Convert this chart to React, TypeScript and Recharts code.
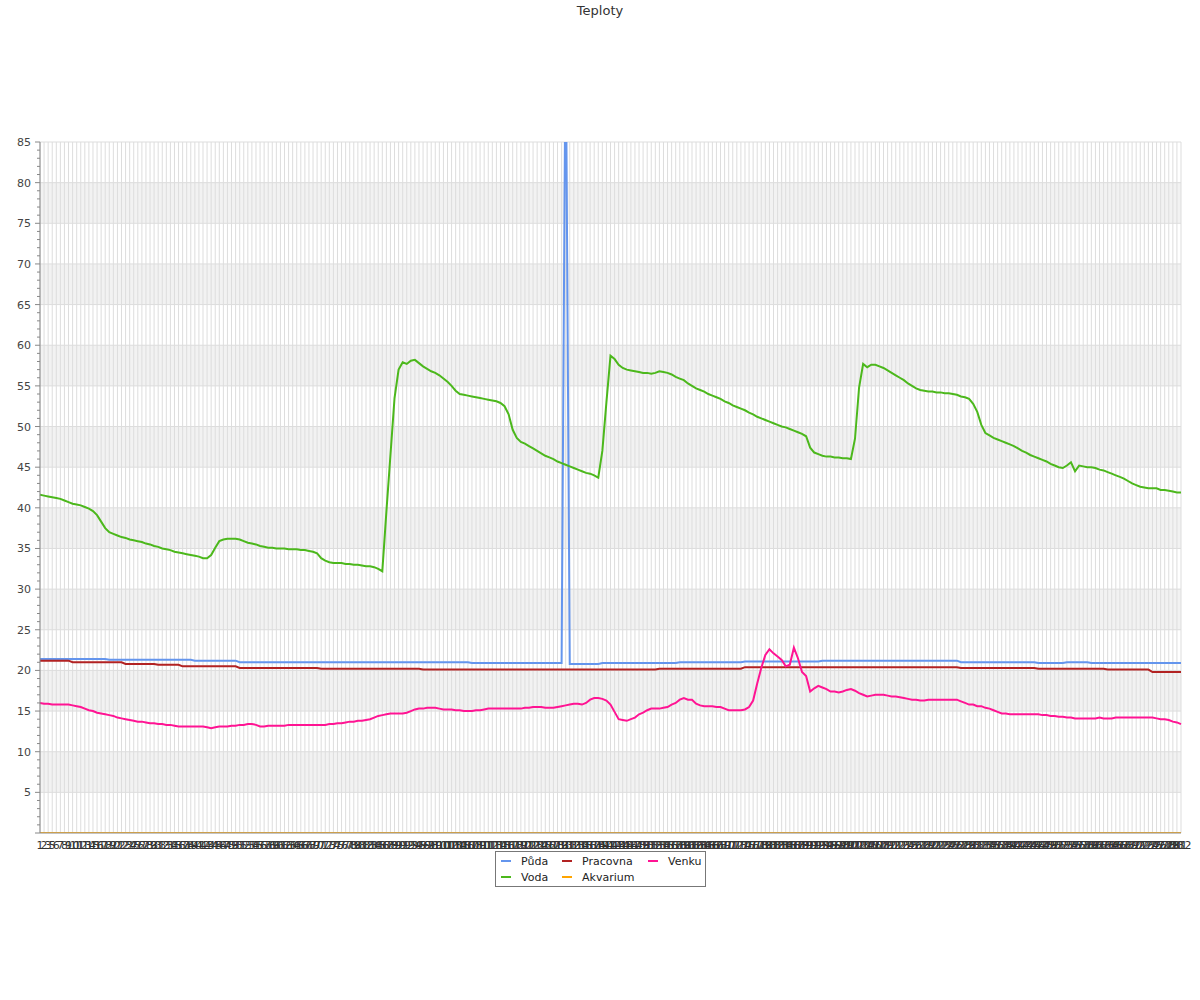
import React from 'react';
import { CartesianGrid, Line, LineChart, XAxis, YAxis } from 'recharts';

// x categories: measurement numbers (1, 2, 3, 5, ... 282)
const LABELS = Array.from({ length: 281 }, (_, i) => String(i < 3 ? i + 1 : i + 2));

const PUDA = [
  21.4, 21.4, 21.4, 21.4, 21.4, 21.4, 21.4, 21.4, 21.4, 21.4,
  21.4, 21.4, 21.4, 21.4, 21.4, 21.4, 21.4, 21.3, 21.3, 21.3,
  21.3, 21.3, 21.3, 21.3, 21.3, 21.3, 21.3, 21.3, 21.3, 21.3,
  21.3, 21.3, 21.3, 21.3, 21.3, 21.3, 21.3, 21.3, 21.2, 21.2,
  21.2, 21.2, 21.2, 21.2, 21.2, 21.2, 21.2, 21.2, 21.2, 21.0,
  21.0, 21.0, 21.0, 21.0, 21.0, 21.0, 21.0, 21.0, 21.0, 21.0,
  21.0, 21.0, 21.0, 21.0, 21.0, 21.0, 21.0, 21.0, 21.0, 21.0,
  21.0, 21.0, 21.0, 21.0, 21.0, 21.0, 21.0, 21.0, 21.0, 21.0,
  21.0, 21.0, 21.0, 21.0, 21.0, 21.0, 21.0, 21.0, 21.0, 21.0,
  21.0, 21.0, 21.0, 21.0, 21.0, 21.0, 21.0, 21.0, 21.0, 21.0,
  21.0, 21.0, 21.0, 21.0, 21.0, 21.0, 20.9, 20.9, 20.9, 20.9,
  20.9, 20.9, 20.9, 20.9, 20.9, 20.9, 20.9, 20.9, 20.9, 20.9,
  20.9, 20.9, 20.9, 20.9, 20.9, 20.9, 20.9, 20.9, 20.9, 100,
  20.8, 20.8, 20.8, 20.8, 20.8, 20.8, 20.8, 20.8, 20.9, 20.9,
  20.9, 20.9, 20.9, 20.9, 20.9, 20.9, 20.9, 20.9, 20.9, 20.9,
  20.9, 20.9, 20.9, 20.9, 20.9, 20.9, 20.9, 21.0, 21.0, 21.0,
  21.0, 21.0, 21.0, 21.0, 21.0, 21.0, 21.0, 21.0, 21.0, 21.0,
  21.0, 21.0, 21.0, 21.1, 21.1, 21.1, 21.1, 21.1, 21.1, 21.1,
  21.1, 21.1, 21.1, 21.1, 21.1, 21.1, 21.1, 21.1, 21.1, 21.1,
  21.1, 21.1, 21.2, 21.2, 21.2, 21.2, 21.2, 21.2, 21.2, 21.2,
  21.2, 21.2, 21.2, 21.2, 21.2, 21.2, 21.2, 21.2, 21.2, 21.2,
  21.2, 21.2, 21.2, 21.2, 21.2, 21.2, 21.2, 21.2, 21.2, 21.2,
  21.2, 21.2, 21.2, 21.2, 21.2, 21.2, 21.0, 21.0, 21.0, 21.0,
  21.0, 21.0, 21.0, 21.0, 21.0, 21.0, 21.0, 21.0, 21.0, 21.0,
  21.0, 21.0, 21.0, 21.0, 21.0, 20.9, 20.9, 20.9, 20.9, 20.9,
  20.9, 20.9, 21.0, 21.0, 21.0, 21.0, 21.0, 21.0, 20.9, 20.9,
  20.9, 20.9, 20.9, 20.9, 20.9, 20.9, 20.9, 20.9, 20.9, 20.9,
  20.9, 20.9, 20.9, 20.9, 20.9, 20.9, 20.9, 20.9, 20.9, 20.9,
  20.9,
];

const VODA = [
  41.6, 41.5, 41.4, 41.3, 41.2, 41.1, 40.9, 40.7, 40.5, 40.4,
  40.3, 40.1, 39.9, 39.6, 39.1, 38.3, 37.5, 37.0, 36.8, 36.6,
  36.4, 36.3, 36.1, 36.0, 35.9, 35.8, 35.6, 35.5, 35.3, 35.2,
  35.0, 34.9, 34.8, 34.6, 34.5, 34.4, 34.3, 34.2, 34.1, 34.0,
  33.8, 33.8, 34.2, 35.1, 35.9, 36.1, 36.2, 36.2, 36.2, 36.1,
  35.9, 35.7, 35.6, 35.5, 35.3, 35.2, 35.1, 35.1, 35.0, 35.0,
  35.0, 34.9, 34.9, 34.9, 34.8, 34.8, 34.7, 34.6, 34.4, 33.8,
  33.5, 33.3, 33.2, 33.2, 33.2, 33.1, 33.1, 33.0, 33.0, 32.9,
  32.8, 32.8, 32.7, 32.5, 32.2, 39.5, 46.5, 53.5, 57.0, 57.9,
  57.7, 58.1, 58.2, 57.8, 57.4, 57.1, 56.8, 56.6, 56.3, 55.9,
  55.5, 55.0, 54.4, 54.0, 53.9, 53.8, 53.7, 53.6, 53.5, 53.4,
  53.3, 53.2, 53.1, 52.9, 52.5, 51.5, 49.6, 48.6, 48.1, 47.9,
  47.6, 47.3, 47.0, 46.7, 46.4, 46.2, 46.0, 45.7, 45.5, 45.3,
  45.1, 44.9, 44.7, 44.5, 44.3, 44.2, 44.0, 43.7, 47.0, 53.0,
  58.7, 58.3, 57.6, 57.2, 57.0, 56.9, 56.8, 56.7, 56.6, 56.6,
  56.5, 56.6, 56.8, 56.7, 56.6, 56.4, 56.1, 55.9, 55.7, 55.3,
  55.0, 54.7, 54.5, 54.3, 54.0, 53.8, 53.6, 53.4, 53.1, 52.9,
  52.6, 52.4, 52.2, 52.0, 51.7, 51.5, 51.2, 51.0, 50.8, 50.6,
  50.4, 50.2, 50.0, 49.9, 49.7, 49.5, 49.3, 49.1, 48.8, 47.4,
  46.8, 46.6, 46.4, 46.3, 46.3, 46.2, 46.2, 46.1, 46.1, 46.0,
  48.5, 54.8, 57.7, 57.3, 57.6, 57.6, 57.4, 57.2, 56.9, 56.6,
  56.3, 56.0, 55.7, 55.3, 55.0, 54.7, 54.5, 54.4, 54.3, 54.3,
  54.2, 54.2, 54.1, 54.1, 54.0, 53.9, 53.7, 53.6, 53.4, 52.8,
  51.8, 50.2, 49.2, 48.9, 48.6, 48.4, 48.2, 48.0, 47.8, 47.6,
  47.3, 47.0, 46.8, 46.5, 46.3, 46.1, 45.9, 45.7, 45.4, 45.2,
  45.0, 44.9, 45.2, 45.6, 44.5, 45.2, 45.1, 45.0, 45.0, 44.9,
  44.7, 44.6, 44.4, 44.2, 44.0, 43.8, 43.6, 43.3, 43.0, 42.8,
  42.6, 42.5, 42.4, 42.4, 42.4, 42.2, 42.2, 42.1, 42.0, 41.9,
  41.9,
];

const PRACOVNA = [
  21.2, 21.2, 21.2, 21.2, 21.2, 21.2, 21.2, 21.2, 21.0, 21.0,
  21.0, 21.0, 21.0, 21.0, 21.0, 21.0, 21.0, 21.0, 21.0, 21.0,
  21.0, 20.8, 20.8, 20.8, 20.8, 20.8, 20.8, 20.8, 20.8, 20.7,
  20.7, 20.7, 20.7, 20.7, 20.7, 20.5, 20.5, 20.5, 20.5, 20.5,
  20.5, 20.5, 20.5, 20.5, 20.5, 20.5, 20.5, 20.5, 20.5, 20.3,
  20.3, 20.3, 20.3, 20.3, 20.3, 20.3, 20.3, 20.3, 20.3, 20.3,
  20.3, 20.3, 20.3, 20.3, 20.3, 20.3, 20.3, 20.3, 20.3, 20.2,
  20.2, 20.2, 20.2, 20.2, 20.2, 20.2, 20.2, 20.2, 20.2, 20.2,
  20.2, 20.2, 20.2, 20.2, 20.2, 20.2, 20.2, 20.2, 20.2, 20.2,
  20.2, 20.2, 20.2, 20.2, 20.1, 20.1, 20.1, 20.1, 20.1, 20.1,
  20.1, 20.1, 20.1, 20.1, 20.1, 20.1, 20.1, 20.1, 20.1, 20.1,
  20.1, 20.1, 20.1, 20.1, 20.1, 20.1, 20.1, 20.1, 20.1, 20.1,
  20.1, 20.1, 20.1, 20.1, 20.1, 20.1, 20.1, 20.1, 20.1, 20.1,
  20.1, 20.1, 20.1, 20.1, 20.1, 20.1, 20.1, 20.1, 20.1, 20.1,
  20.1, 20.1, 20.1, 20.1, 20.1, 20.1, 20.1, 20.1, 20.1, 20.1,
  20.1, 20.1, 20.2, 20.2, 20.2, 20.2, 20.2, 20.2, 20.2, 20.2,
  20.2, 20.2, 20.2, 20.2, 20.2, 20.2, 20.2, 20.2, 20.2, 20.2,
  20.2, 20.2, 20.2, 20.4, 20.4, 20.4, 20.4, 20.4, 20.4, 20.4,
  20.4, 20.4, 20.4, 20.4, 20.4, 20.4, 20.4, 20.4, 20.4, 20.4,
  20.4, 20.4, 20.4, 20.4, 20.4, 20.4, 20.4, 20.4, 20.4, 20.4,
  20.4, 20.4, 20.4, 20.4, 20.4, 20.4, 20.4, 20.4, 20.4, 20.4,
  20.4, 20.4, 20.4, 20.4, 20.4, 20.4, 20.4, 20.4, 20.4, 20.4,
  20.4, 20.4, 20.4, 20.4, 20.4, 20.4, 20.3, 20.3, 20.3, 20.3,
  20.3, 20.3, 20.3, 20.3, 20.3, 20.3, 20.3, 20.3, 20.3, 20.3,
  20.3, 20.3, 20.3, 20.3, 20.3, 20.2, 20.2, 20.2, 20.2, 20.2,
  20.2, 20.2, 20.2, 20.2, 20.2, 20.2, 20.2, 20.2, 20.2, 20.2,
  20.2, 20.2, 20.1, 20.1, 20.1, 20.1, 20.1, 20.1, 20.1, 20.1,
  20.1, 20.1, 20.1, 19.8, 19.8, 19.8, 19.8, 19.8, 19.8, 19.8,
  19.8,
];

const AKVARIUM = [
  0, 0, 0, 0, 0, 0, 0, 0, 0, 0, 0, 0, 0, 0, 0, 0, 0, 0, 0, 0,
  0, 0, 0, 0, 0, 0, 0, 0, 0, 0, 0, 0, 0, 0, 0, 0, 0, 0, 0, 0,
  0, 0, 0, 0, 0, 0, 0, 0, 0, 0, 0, 0, 0, 0, 0, 0, 0, 0, 0, 0,
  0, 0, 0, 0, 0, 0, 0, 0, 0, 0, 0, 0, 0, 0, 0, 0, 0, 0, 0, 0,
  0, 0, 0, 0, 0, 0, 0, 0, 0, 0, 0, 0, 0, 0, 0, 0, 0, 0, 0, 0,
  0, 0, 0, 0, 0, 0, 0, 0, 0, 0, 0, 0, 0, 0, 0, 0, 0, 0, 0, 0,
  0, 0, 0, 0, 0, 0, 0, 0, 0, 0, 0, 0, 0, 0, 0, 0, 0, 0, 0, 0,
  0, 0, 0, 0, 0, 0, 0, 0, 0, 0, 0, 0, 0, 0, 0, 0, 0, 0, 0, 0,
  0, 0, 0, 0, 0, 0, 0, 0, 0, 0, 0, 0, 0, 0, 0, 0, 0, 0, 0, 0,
  0, 0, 0, 0, 0, 0, 0, 0, 0, 0, 0, 0, 0, 0, 0, 0, 0, 0, 0, 0,
  0, 0, 0, 0, 0, 0, 0, 0, 0, 0, 0, 0, 0, 0, 0, 0, 0, 0, 0, 0,
  0, 0, 0, 0, 0, 0, 0, 0, 0, 0, 0, 0, 0, 0, 0, 0, 0, 0, 0, 0,
  0, 0, 0, 0, 0, 0, 0, 0, 0, 0, 0, 0, 0, 0, 0, 0, 0, 0, 0, 0,
  0, 0, 0, 0, 0, 0, 0, 0, 0, 0, 0, 0, 0, 0, 0, 0, 0, 0, 0, 0,
  0,
];

const VENKU = [
  16.0, 15.9, 15.9, 15.8, 15.8, 15.8, 15.8, 15.8, 15.7, 15.6,
  15.5, 15.3, 15.1, 15.0, 14.8, 14.7, 14.6, 14.5, 14.4, 14.2,
  14.1, 14.0, 13.9, 13.8, 13.7, 13.7, 13.6, 13.5, 13.5, 13.4,
  13.4, 13.3, 13.3, 13.2, 13.1, 13.1, 13.1, 13.1, 13.1, 13.1,
  13.1, 13.0, 12.9, 13.0, 13.1, 13.1, 13.1, 13.2, 13.2, 13.3,
  13.3, 13.4, 13.4, 13.3, 13.1, 13.1, 13.2, 13.2, 13.2, 13.2,
  13.2, 13.3, 13.3, 13.3, 13.3, 13.3, 13.3, 13.3, 13.3, 13.3,
  13.3, 13.4, 13.4, 13.5, 13.5, 13.6, 13.7, 13.7, 13.8, 13.8,
  13.9, 14.0, 14.2, 14.4, 14.5, 14.6, 14.7, 14.7, 14.7, 14.7,
  14.8, 15.0, 15.2, 15.3, 15.3, 15.4, 15.4, 15.4, 15.3, 15.2,
  15.2, 15.2, 15.1, 15.1, 15.0, 15.0, 15.0, 15.1, 15.1, 15.2,
  15.3, 15.3, 15.3, 15.3, 15.3, 15.3, 15.3, 15.3, 15.3, 15.4,
  15.4, 15.5, 15.5, 15.5, 15.4, 15.4, 15.4, 15.5, 15.6, 15.7,
  15.8, 15.9, 15.9, 15.8, 16.0, 16.4, 16.6, 16.6, 16.5, 16.3,
  15.8, 14.9, 14.0, 13.9, 13.8, 14.0, 14.2, 14.6, 14.8, 15.1,
  15.3, 15.3, 15.3, 15.4, 15.5, 15.8, 16.0, 16.4, 16.6, 16.4,
  16.4, 15.9, 15.7, 15.6, 15.6, 15.6, 15.5, 15.5, 15.3, 15.1,
  15.1, 15.1, 15.1, 15.2, 15.5, 16.3, 18.4, 20.3, 21.9, 22.6,
  22.1, 21.7, 21.3, 20.5, 20.7, 22.8, 21.5, 19.8, 19.3, 17.4,
  17.8, 18.1, 17.9, 17.7, 17.4, 17.4, 17.3, 17.4, 17.6, 17.7,
  17.5, 17.2, 17.0, 16.8, 16.9, 17.0, 17.0, 17.0, 16.9, 16.8,
  16.8, 16.7, 16.6, 16.5, 16.4, 16.4, 16.3, 16.3, 16.4, 16.4,
  16.4, 16.4, 16.4, 16.4, 16.4, 16.4, 16.2, 16.0, 15.8, 15.8,
  15.6, 15.6, 15.4, 15.3, 15.1, 14.9, 14.7, 14.7, 14.6, 14.6,
  14.6, 14.6, 14.6, 14.6, 14.6, 14.6, 14.5, 14.5, 14.4, 14.4,
  14.3, 14.3, 14.2, 14.2, 14.1, 14.1, 14.1, 14.1, 14.1, 14.1,
  14.2, 14.1, 14.1, 14.1, 14.2, 14.2, 14.2, 14.2, 14.2, 14.2,
  14.2, 14.2, 14.2, 14.2, 14.1, 14.0, 14.0, 13.9, 13.7, 13.6,
  13.4,
];

const Y_MAX = 85;
const Y_TICKS = Array.from({ length: Y_MAX + 1 }, (_, i) => i);
const GRID_VALUES = [0, 5, 10, 15, 20, 25, 30, 35, 40, 45, 50, 55, 60, 65, 70, 75, 80, 85];

// column-major like the original legend: Půda/Voda, Pracovna/Akvarium, Venku
const SERIES = [
  { key: 'puda', name: 'Půda', color: '#6495ed' },
  { key: 'voda', name: 'Voda', color: '#4cb81c' },
  { key: 'pracovna', name: 'Pracovna', color: '#b22222' },
  { key: 'akvarium', name: 'Akvarium', color: '#ffa500' },
  { key: 'venku', name: 'Venku', color: '#ff1493' },
];

const data = LABELS.map((label, i) => ({
  label,
  puda: PUDA[i],
  voda: VODA[i],
  pracovna: PRACOVNA[i],
  akvarium: AKVARIUM[i],
  venku: VENKU[i],
}));

function YTick(props: any) {
  const { x, y, payload } = props;
  const v = payload.value;
  const major = v % 5 === 0;
  const axisX = x + 9;
  return (
    <g>
      <line x1={axisX - (major ? 5 : 3)} x2={axisX} y1={y} y2={y} stroke="#888" />
      {major && v !== 0 && (
        <text x={x} y={y} dy={4} textAnchor="end" fontSize={11} fill="#444">
          {v}
        </text>
      )}
    </g>
  );
}

const legendRows = [
  [SERIES[0], SERIES[2], SERIES[4]],
  [SERIES[1], SERIES[3]],
];
const legendCols = [61, 86, 55];

export default function App() {
  return (
    <div
      style={{
        position: 'absolute',
        left: 0,
        top: 0,
        width: 1200,
        height: 1000,
        background: '#fff',
        fontFamily: '"DejaVu Sans", sans-serif',
      }}
    >
      <div
        style={{
          position: 'absolute',
          top: 3,
          left: 0,
          width: 1200,
          textAlign: 'center',
          fontSize: 13,
          color: '#333',
        }}
      >
        Teploty
      </div>
      <LineChart
        width={1200}
        height={1000}
        data={data}
        margin={{ top: 142, right: 19, bottom: 137, left: 0 }}
      >
        <CartesianGrid
          stroke="#dddddd"
          horizontalFill={['#ffffff', '#f2f2f2']}
          horizontalCoordinatesGenerator={({ offset }: any) =>
            GRID_VALUES.map((v) => offset.top + offset.height * (1 - v / Y_MAX))
          }
        />
        <XAxis
          dataKey="label"
          interval={0}
          height={30}
          tickLine={false}
          axisLine={{ stroke: '#999' }}
          tick={{ fontSize: 11, fill: '#333' }}
        />
        <YAxis
          width={40}
          domain={[0, Y_MAX]}
          ticks={Y_TICKS}
          interval={0}
          allowDataOverflow
          tickSize={5}
          tickMargin={4}
          tickLine={false}
          axisLine={{ stroke: '#888' }}
          tick={<YTick />}
        />
        {SERIES.map((s) => (
          <Line
            key={s.key}
            type="linear"
            dataKey={s.key}
            name={s.name}
            stroke={s.color}
            strokeWidth={2}
            dot={false}
            activeDot={false}
            isAnimationActive={false}
          />
        ))}
      </LineChart>
      <div
        style={{
          position: 'absolute',
          left: 495,
          top: 851,
          width: 204,
          height: 33,
          border: '1px solid #777',
          background: '#fff',
          padding: '1px 0 0 5px',
          boxSizing: 'content-box',
        }}
      >
        {legendRows.map((row, r) => (
          <div key={r} style={{ display: 'flex', height: 16, alignItems: 'center' }}>
            {row.map((s, c) => (
              <div
                key={s.key}
                style={{ width: legendCols[c], display: 'flex', alignItems: 'center' }}
              >
                <span
                  style={{
                    display: 'inline-block',
                    width: 10,
                    height: 2,
                    background: s.color,
                    marginRight: 10,
                  }}
                />
                <span style={{ fontSize: 11, color: '#222' }}>{s.name}</span>
              </div>
            ))}
          </div>
        ))}
      </div>
    </div>
  );
}
